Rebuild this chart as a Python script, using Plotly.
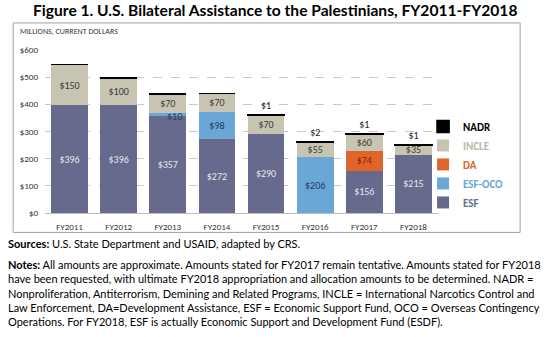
import plotly.graph_objects as go

years = ["FY2011", "FY2012", "FY2013", "FY2014", "FY2015", "FY2016", "FY2017", "FY2018"]
esf = [396, 396, 357, 272, 290, 0, 156, 215]
esf_oco = [0, 0, 10, 98, 0, 206, 0, 0]
da = [0, 0, 0, 0, 0, 0, 74, 0]
incle = [150, 100, 70, 70, 70, 55, 60, 35]
nadr = [0, 0, 0, 0, 1, 2, 1, 1]
y_ticks = [0, 100, 200, 300, 400, 500, 600]

FONT = "Carlito, Calibri, Lato, sans-serif"
TFONT = "Gill Sans, Lato, sans-serif"

def labels(vals, skip=()):
    return ["" if (v == 0 or i in skip) else f"${v}" for i, v in enumerate(vals)]

series = [
    ("ESF", esf, "#676a8c", "#e6e6f2", "inside", ()),
    ("ESF-OCO", esf_oco, "#6aa6d6", "#1e3d6b", "inside", (2,)),
    ("DA", da, "#e0652b", "#8a1c12", "inside", ()),
    ("INCLE", incle, "#c7c4b1", "#3a3a3a", "inside", ()),
    ("NADR", nadr, "#000000", "#222222", "outside", ()),
]

fig = go.Figure()
for name, vals, color, tcolor, tpos, skip in series:
    fig.add_trace(go.Bar(
        x=years, y=vals, name=f"<b><span style='color:{color if name != 'INCLE' else '#b9b8ad'}'>{name}</span></b>",
        marker=dict(color=color, line=dict(width=1.6 if name == "NADR" else 0, color="#000")),
        text=labels(vals, skip), textposition=tpos, insidetextanchor="middle",
        textfont=dict(color=tcolor, size=10, family=FONT),
        cliponaxis=False,
    ))

# small ESF-OCO label for FY2013, placed beside its thin segment
i13 = 2
fig.add_annotation(x=i13 + 0.13, y=esf[i13] + esf_oco[i13] / 2, yshift=-2, text=f"${esf_oco[i13]}",
                   showarrow=False, font=dict(color="#1e3d6b", size=10, family=FONT))

fig.update_layout(
    width=550, height=337, barmode="stack", bargap=0.25,
    margin=dict(l=45, r=112, t=50, b=124.3),
    plot_bgcolor="white", paper_bgcolor="white",
    uniformtext=dict(minsize=10, mode="show"),
    showlegend=True,
    legend=dict(x=0.962, y=0.62, xanchor="left", yanchor="top", traceorder="reversed",
                font=dict(family=FONT, size=11), itemwidth=30, tracegroupgap=0,
                bgcolor="rgba(0,0,0,0)"),
    font=dict(family=FONT, size=9, color="#333"),
)
fig.update_yaxes(range=[0, 600], tickvals=y_ticks, ticktext=[f"${v}" for v in y_ticks],
                 showgrid=True, gridcolor="#c8c8c8", griddash="dash", gridwidth=0.8,
                 zeroline=False, tickfont=dict(size=9, color="#333", family=FONT),
                 ticks="", ticklabelstandoff=6)
fig.update_xaxes(showline=True, linecolor="#bdbdbd", linewidth=1, ticks="", ticklabelstandoff=5,
                 tickfont=dict(size=9, color="#333", family=FONT))

# chart frame
fig.add_shape(type="rect", xref="paper", yref="paper", x0=-0.081, x1=1.209, y0=-0.119, y1=1.166,
              line=dict(color="#a0a0a0", width=1), fillcolor="rgba(0,0,0,0)", layer="below")

fig.add_annotation(xref="paper", yref="paper", x=-0.068, y=1.115, xanchor="left", yanchor="middle",
                   text="MILLIONS, CURRENT DOLLARS", showarrow=False,
                   font=dict(size=8, color="#333", family=FONT))

fig.add_annotation(xref="paper", yref="paper", x=0.585, y=1.246, xanchor="center", yanchor="middle",
                   text="<b>Figure 1. U.S. Bilateral Assistance to the Palestinians, FY2011-FY2018</b>",
                   showarrow=False, font=dict(size=15.6, color="#000", family=TFONT))

fig.add_annotation(xref="paper", yref="paper", x=-0.1, y=-0.187, xanchor="left", yanchor="middle",
                   text="<b>Sources:</b> U.S. State Department and USAID, adapted by CRS.",
                   showarrow=False, font=dict(size=11, color="#000", family=TFONT))

notes = ("<b>Notes:</b> All amounts are approximate. Amounts stated for FY2017 remain tentative. Amounts stated for FY2018<br>"
         "have been requested, with ultimate FY2018 appropriation and allocation amounts to be determined. NADR =<br>"
         "Nonproliferation, Antiterrorism, Demining and Related Programs, INCLE = International Narcotics Control and<br>"
         "Law Enforcement, DA=Development Assistance, ESF = Economic Support Fund, OCO = Overseas Contingency<br>"
         "Operations. For FY2018, ESF is actually Economic Support and Development Fund (ESDF).")
fig.add_annotation(xref="paper", yref="paper", x=-0.1, y=-0.262, xanchor="left", yanchor="top",
                   text=notes, align="left", showarrow=False,
                   font=dict(size=11, color="#000", family=TFONT))

fig.write_html("out.html")
